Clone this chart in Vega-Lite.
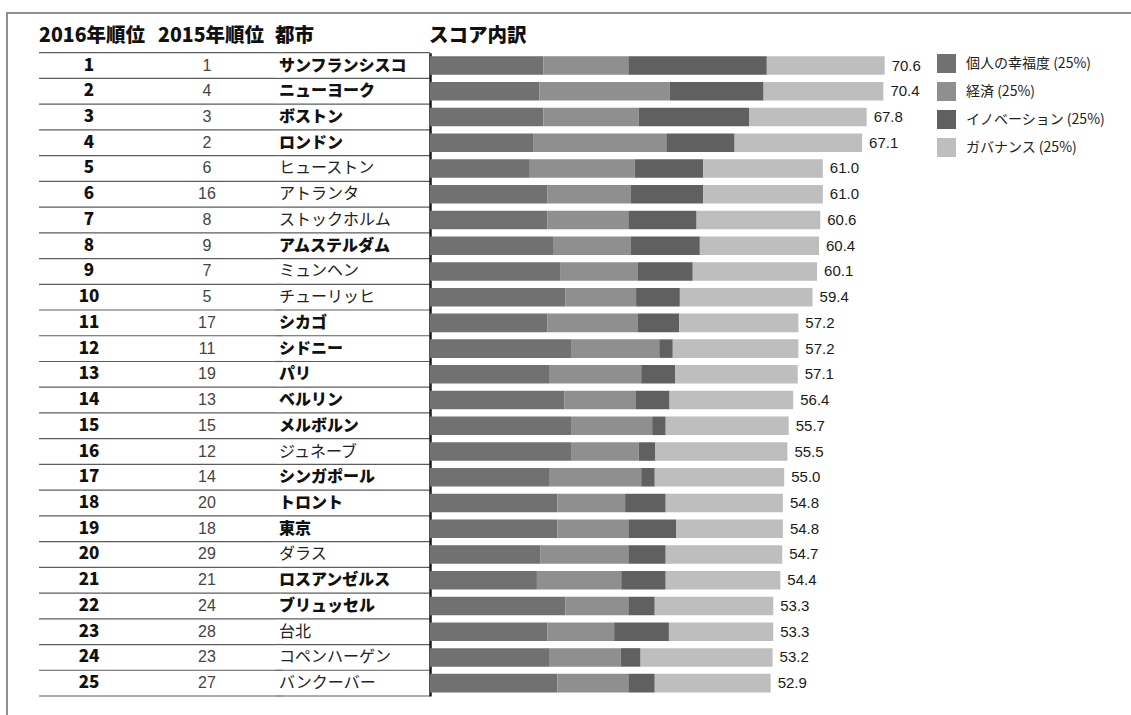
{
  "$schema": "https://vega.github.io/schema/vega-lite/v6.json",
  "padding": {"left": 6, "top": 12, "right": 0, "bottom": 0},
  "datasets": {
    "cities": [
      {"rank16": 1, "rank15": 1, "city": "サンフランシスコ", "bold": true, "個人の幸福度": 17.6, "経済": 13.2, "イノベーション": 21.5, "ガバナンス": 18.3, "total": 70.6},
      {"rank16": 2, "rank15": 4, "city": "ニューヨーク", "bold": true, "個人の幸福度": 17.0, "経済": 20.2, "イノベーション": 14.6, "ガバナンス": 18.6, "total": 70.4},
      {"rank16": 3, "rank15": 3, "city": "ボストン", "bold": true, "個人の幸福度": 17.6, "経済": 14.8, "イノベーション": 17.2, "ガバナンス": 18.2, "total": 67.8},
      {"rank16": 4, "rank15": 2, "city": "ロンドン", "bold": true, "個人の幸福度": 16.0, "経済": 20.7, "イノベーション": 10.6, "ガバナンス": 19.8, "total": 67.1},
      {"rank16": 5, "rank15": 6, "city": "ヒューストン", "bold": false, "個人の幸福度": 15.5, "経済": 16.3, "イノベーション": 10.6, "ガバナンス": 18.6, "total": 61.0},
      {"rank16": 6, "rank15": 16, "city": "アトランタ", "bold": false, "個人の幸福度": 18.2, "経済": 13.0, "イノベーション": 11.2, "ガバナンス": 18.6, "total": 61.0},
      {"rank16": 7, "rank15": 8, "city": "ストックホルム", "bold": false, "個人の幸福度": 18.2, "経済": 12.6, "イノベーション": 10.6, "ガバナンス": 19.2, "total": 60.6},
      {"rank16": 8, "rank15": 9, "city": "アムステルダム", "bold": true, "個人の幸福度": 19.1, "経済": 12.1, "イノベーション": 10.7, "ガバナンス": 18.5, "total": 60.4},
      {"rank16": 9, "rank15": 7, "city": "ミュンヘン", "bold": false, "個人の幸福度": 20.3, "経済": 12.0, "イノベーション": 8.5, "ガバナンス": 19.3, "total": 60.1},
      {"rank16": 10, "rank15": 5, "city": "チューリッヒ", "bold": false, "個人の幸福度": 21.0, "経済": 11.0, "イノベーション": 6.8, "ガバナンス": 20.6, "total": 59.4},
      {"rank16": 11, "rank15": 17, "city": "シカゴ", "bold": true, "個人の幸福度": 18.2, "経済": 14.1, "イノベーション": 6.4, "ガバナンス": 18.5, "total": 57.2},
      {"rank16": 12, "rank15": 11, "city": "シドニー", "bold": true, "個人の幸福度": 21.9, "経済": 13.7, "イノベーション": 2.1, "ガバナンス": 19.5, "total": 57.2},
      {"rank16": 13, "rank15": 19, "city": "パリ", "bold": true, "個人の幸福度": 18.6, "経済": 14.2, "イノベーション": 5.3, "ガバナンス": 19.0, "total": 57.1},
      {"rank16": 14, "rank15": 13, "city": "ベルリン", "bold": true, "個人の幸福度": 20.9, "経済": 11.0, "イノベーション": 5.3, "ガバナンス": 19.2, "total": 56.4},
      {"rank16": 15, "rank15": 15, "city": "メルボルン", "bold": true, "個人の幸福度": 21.9, "経済": 12.6, "イノベーション": 2.1, "ガバナンス": 19.1, "total": 55.7},
      {"rank16": 16, "rank15": 12, "city": "ジュネーブ", "bold": false, "個人の幸福度": 21.9, "経済": 10.5, "イノベーション": 2.6, "ガバナンス": 20.5, "total": 55.5},
      {"rank16": 17, "rank15": 14, "city": "シンガポール", "bold": true, "個人の幸福度": 18.6, "経済": 14.2, "イノベーション": 2.1, "ガバナンス": 20.1, "total": 55.0},
      {"rank16": 18, "rank15": 20, "city": "トロント", "bold": true, "個人の幸福度": 19.8, "経済": 10.5, "イノベーション": 6.3, "ガバナンス": 18.2, "total": 54.8},
      {"rank16": 19, "rank15": 18, "city": "東京", "bold": true, "個人の幸福度": 19.8, "経済": 11.0, "イノベーション": 7.4, "ガバナンス": 16.6, "total": 54.8},
      {"rank16": 20, "rank15": 29, "city": "ダラス", "bold": false, "個人の幸福度": 17.1, "経済": 13.7, "イノベーション": 5.8, "ガバナンス": 18.1, "total": 54.7},
      {"rank16": 21, "rank15": 21, "city": "ロスアンゼルス", "bold": true, "個人の幸福度": 16.6, "経済": 13.1, "イノベーション": 6.9, "ガバナンス": 17.8, "total": 54.4},
      {"rank16": 22, "rank15": 24, "city": "ブリュッセル", "bold": true, "個人の幸福度": 21.0, "経済": 9.8, "イノベーション": 4.1, "ガバナンス": 18.4, "total": 53.3},
      {"rank16": 23, "rank15": 28, "city": "台北", "bold": false, "個人の幸福度": 18.2, "経済": 10.4, "イノベーション": 8.5, "ガバナンス": 16.2, "total": 53.3},
      {"rank16": 24, "rank15": 23, "city": "コペンハーゲン", "bold": false, "個人の幸福度": 18.6, "経済": 11.0, "イノベーション": 3.1, "ガバナンス": 20.5, "total": 53.2},
      {"rank16": 25, "rank15": 27, "city": "バンクーバー", "bold": false, "個人の幸福度": 19.8, "経済": 11.0, "イノベーション": 4.1, "ガバナンス": 18.0, "total": 52.9}
    ]
  },
  "bounds": "flush",
  "spacing": 0,
  "vconcat": [
    {
      "data": {"values": []},
      "mark": "point",
      "width": 1124,
      "height": 0.01,
      "view": {"stroke": "#8f8f8f", "strokeWidth": 2}
    },
    {
      "bounds": "flush",
      "spacing": 31,
      "hconcat": [
        {
          "data": {"values": []},
          "mark": "point",
          "width": 0.01,
          "height": 702,
          "view": {"stroke": "#8f8f8f", "strokeWidth": 2}
        },
        {
          "bounds": "flush",
          "spacing": 37.7,
          "vconcat": [
            {"data": {"values": []}, "mark": "point", "width": 0.01, "height": 0.01},
            {
              "bounds": "flush",
              "spacing": 0,
              "hconcat": [
                {
                  "title": {"text": "2016年順位", "dx": 0},
                  "width": 100,
                  "height": 643.3,
                  "data": {"name": "cities"},
                  "encoding": {"y": {"field": "rank16", "type": "ordinal", "axis": null, "scale": {"paddingInner": 0, "paddingOuter": 0}}},
                  "layer": [
                    {"mark": {"type": "rule", "color": "#5c5c5c", "strokeWidth": 1.2}, "encoding": {"y": {"field": "rank16", "type": "ordinal", "bandPosition": 1}}},
                    {"transform": [{"filter": "datum.rank16 == 1"}], "mark": {"type": "rule", "color": "#5c5c5c", "strokeWidth": 1.2}, "encoding": {"y": {"field": "rank16", "type": "ordinal", "bandPosition": 0}}},
                    {"mark": {"type": "text", "font": "Noto Sans CJK JP", "fontWeight": 900, "fontSize": 17, "color": "#111", "baseline": "middle"}, "encoding": {"text": {"field": "rank16"}}}
                  ]
                },
                {
                  "title": {"text": "2015年順位", "dx": 19},
                  "width": 136,
                  "height": 643.3,
                  "data": {"name": "cities"},
                  "encoding": {"y": {"field": "rank16", "type": "ordinal", "axis": null, "scale": {"paddingInner": 0, "paddingOuter": 0}}},
                  "layer": [
                    {"mark": {"type": "rule", "color": "#5c5c5c", "strokeWidth": 1.2}, "encoding": {"y": {"field": "rank16", "type": "ordinal", "bandPosition": 1}}},
                    {"transform": [{"filter": "datum.rank16 == 1"}], "mark": {"type": "rule", "color": "#5c5c5c", "strokeWidth": 1.2}, "encoding": {"y": {"field": "rank16", "type": "ordinal", "bandPosition": 0}}},
                    {"mark": {"type": "text", "font": "Liberation Sans", "fontSize": 16, "color": "#444", "baseline": "middle"}, "encoding": {"text": {"field": "rank15"}}}
                  ]
                },
                {
                  "title": {"text": "都市", "dx": 0},
                  "width": 8,
                  "height": 643.3,
                  "data": {"name": "cities"},
                  "encoding": {"y": {"field": "rank16", "type": "ordinal", "axis": null, "scale": {"paddingInner": 0, "paddingOuter": 0}}},
                  "layer": [
                    {"mark": {"type": "rule", "color": "#5c5c5c", "strokeWidth": 1.2}, "encoding": {"y": {"field": "rank16", "type": "ordinal", "bandPosition": 1}}},
                    {"transform": [{"filter": "datum.rank16 == 1"}], "mark": {"type": "rule", "color": "#5c5c5c", "strokeWidth": 1.2}, "encoding": {"y": {"field": "rank16", "type": "ordinal", "bandPosition": 0}}},
                    {"transform": [{"filter": "datum.bold"}], "mark": {"type": "text", "align": "left", "font": "Noto Sans CJK JP", "fontWeight": 900, "fontSize": 16, "color": "#111", "baseline": "middle"}, "encoding": {"text": {"field": "city"}}},
                    {"transform": [{"filter": "!datum.bold"}], "mark": {"type": "text", "align": "left", "font": "Noto Sans CJK JP", "fontWeight": "normal", "fontSize": 16, "color": "#222", "baseline": "middle"}, "encoding": {"text": {"field": "city"}}}
                  ]
                },
                {
                  "width": 147,
                  "height": 643.3,
                  "data": {"name": "cities"},
                  "encoding": {"y": {"field": "rank16", "type": "ordinal", "axis": null, "scale": {"paddingInner": 0, "paddingOuter": 0}}},
                  "layer": [
                    {"mark": {"type": "rule", "color": "#5c5c5c", "strokeWidth": 1.2}, "encoding": {"y": {"field": "rank16", "type": "ordinal", "bandPosition": 1}}},
                    {"transform": [{"filter": "datum.rank16 == 1"}], "mark": {"type": "rule", "color": "#5c5c5c", "strokeWidth": 1.2}, "encoding": {"y": {"field": "rank16", "type": "ordinal", "bandPosition": 0}}}
                  ]
                },
                {
                  "title": {"text": "スコア内訳", "dx": -1},
                  "width": 483,
                  "height": 643.3,
                  "data": {"name": "cities"},
                  "encoding": {
                    "y": {
                      "field": "rank16", "type": "ordinal",
                      "scale": {"paddingInner": 0, "paddingOuter": 0},
                      "axis": {"orient": "left", "domain": true, "domainColor": "#1a1a1a", "domainWidth": 2.5, "ticks": false, "labels": false, "grid": false, "title": null}
                    }
                  },
                  "layer": [
                    {
                      "transform": [
                        {"fold": ["個人の幸福度", "経済", "イノベーション", "ガバナンス"], "as": ["part", "score"]},
                        {"window": [{"op": "row_number", "as": "seq"}], "groupby": ["rank16"]}
                      ],
                      "mark": {"type": "bar", "height": {"band": 0.72}},
                      "encoding": {
                        "x": {"field": "score", "type": "quantitative", "stack": "zero", "scale": {"domain": [0, 75], "nice": false}, "axis": null},
                        "order": {"field": "seq", "type": "quantitative"},
                        "color": {
                          "field": "part", "type": "nominal",
                          "scale": {
                            "domain": ["個人の幸福度", "経済", "イノベーション", "ガバナンス"],
                            "range": ["#717171", "#8f8f8f", "#606060", "#bebebe"]
                          },
                          "legend": {
                            "orient": "none", "legendX": 930, "legendY": 41, "title": null, "padding": 0,
                            "symbolType": "square", "symbolSize": 361, "symbolStrokeWidth": 0, "symbolOpacity": 1,
                            "labelFont": "Noto Sans CJK JP", "labelFontSize": 14, "labelColor": "#222",
                            "labelOffset": 10, "rowPadding": 9, "labelExpr": "datum.label + ' (25%)'"
                          }
                        }
                      }
                    },
                    {
                      "mark": {"type": "text", "align": "left", "baseline": "middle", "dx": 7, "font": "Liberation Sans", "fontSize": 15, "color": "#1a1a1a"},
                      "encoding": {
                        "x": {"field": "total", "type": "quantitative"},
                        "text": {"field": "total", "type": "quantitative", "format": ".1f"}
                      }
                    }
                  ]
                }
              ]
            }
          ]
        }
      ]
    }
  ],
  "config": {
    "view": {"stroke": null},
    "title": {
      "anchor": "start", "frame": "group", "orient": "top", "offset": 6, "baseline": "alphabetic",
      "font": "Noto Sans CJK JP", "fontSize": 19.5, "fontWeight": 900, "color": "#111"
    }
  }
}
